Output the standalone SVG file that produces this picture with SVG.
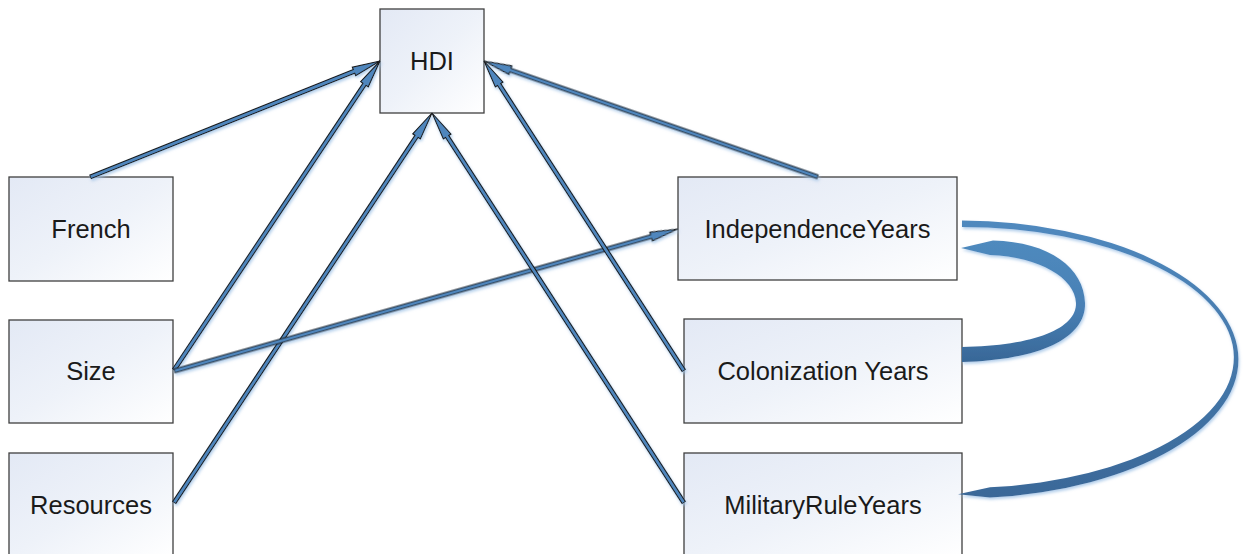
<svg xmlns="http://www.w3.org/2000/svg" xmlns:xlink="http://www.w3.org/1999/xlink" width="1243" height="554" viewBox="0 0 1243 554">
  <style>
    .box { fill: url(#boxFill); stroke: #3f3f3f; stroke-width: 1.3; }
    .label { font-family: "Liberation Sans", Arial, sans-serif; font-size: 25.5px; fill: #1a1a1a; text-anchor: middle; }
    .shaft-out { stroke: #1b1b1b; stroke-width: 5; fill: none; }
    .shaft-in { stroke: #4f86bd; stroke-width: 2.8; fill: none; }
    .head { fill: #4f86bd; stroke: #1b1b1b; stroke-width: 1.1; stroke-linejoin: miter; }
  </style>
  <defs>
    <linearGradient id="boxFill" x1="0" y1="0" x2="1" y2="1">
      <stop offset="0" stop-color="#e3e9f5"/>
      <stop offset="0.5" stop-color="#eef2f9"/>
      <stop offset="1" stop-color="#ffffff"/>
    </linearGradient>
    <linearGradient id="outerArc" gradientUnits="userSpaceOnUse" x1="0" y1="221" x2="0" y2="498">
      <stop offset="0" stop-color="#5089be"/>
      <stop offset="1" stop-color="#3a6898"/>
    </linearGradient>
    <linearGradient id="innerArc" gradientUnits="userSpaceOnUse" x1="0" y1="240" x2="0" y2="362">
      <stop offset="0" stop-color="#4f8abe"/>
      <stop offset="0.55" stop-color="#4880b5"/>
      <stop offset="1" stop-color="#386797"/>
    </linearGradient>
    <!-- soft light-blue halo under the connectors -->
    <filter id="halo" x="-10%" y="-10%" width="120%" height="120%">
      <feGaussianBlur in="SourceAlpha" stdDeviation="1.6" result="b"/>
      <feOffset in="b" dx="1" dy="1.5" result="o"/>
      <feFlood flood-color="#9fc2e6" flood-opacity="0.8"/>
      <feComposite in2="o" operator="in" result="s"/>
      <feMerge>
        <feMergeNode in="s"/>
        <feMergeNode in="SourceGraphic"/>
      </feMerge>
    </filter>
    <polygon id="head" class="head" points="0,0 -28,-4.6 -28,4.6"/>
  </defs>

  <rect width="1243" height="554" fill="#ffffff"/>

  <!-- nodes -->
  <g id="node-hdi">
    <rect class="box" x="380" y="9" width="104" height="104"/>
    <text class="label" x="432" y="70">HDI</text>
  </g>
  <g id="node-french">
    <rect class="box" x="9" y="177" width="164" height="104"/>
    <text class="label" x="91" y="238">French</text>
  </g>
  <g id="node-size">
    <rect class="box" x="9" y="320" width="164" height="103"/>
    <text class="label" x="91" y="380">Size</text>
  </g>
  <g id="node-resources">
    <rect class="box" x="9" y="453" width="164" height="104"/>
    <text class="label" x="91" y="514">Resources</text>
  </g>
  <g id="node-independence">
    <rect class="box" x="678" y="177" width="279" height="103"/>
    <text class="label" x="817.5" y="238">IndependenceYears</text>
  </g>
  <g id="node-colonization">
    <rect class="box" x="684" y="319" width="278" height="104"/>
    <text class="label" x="823" y="380">Colonization Years</text>
  </g>
  <g id="node-military">
    <rect class="box" x="684" y="453" width="278" height="104"/>
    <text class="label" x="823" y="514">MilitaryRuleYears</text>
  </g>

  <!-- connectors: each drawn along +x with the tip at the origin -->
  <g id="connectors" filter="url(#halo)">
    <!-- French -> HDI -->
    <g transform="translate(380,61) rotate(-21.8)">
      <line class="shaft-out" x1="-312.3" y1="0" x2="-26" y2="0"/>
      <use xlink:href="#head"/>
      <line class="shaft-in" x1="-311.5" y1="0" x2="-24" y2="0"/>
    </g>
    <!-- Size -> HDI -->
    <g transform="translate(380,61) rotate(-56.31)">
      <line class="shaft-out" x1="-371.4" y1="0" x2="-26" y2="0"/>
      <use xlink:href="#head"/>
      <line class="shaft-in" x1="-370.6" y1="0" x2="-24" y2="0"/>
    </g>
    <!-- Resources -> HDI -->
    <g transform="translate(432,113) rotate(-56.51)">
      <line class="shaft-out" x1="-467.6" y1="0" x2="-26" y2="0"/>
      <use xlink:href="#head"/>
      <line class="shaft-in" x1="-466.8" y1="0" x2="-24" y2="0"/>
    </g>
    <!-- Size -> IndependenceYears -->
    <g transform="translate(678,229) rotate(-15.74)">
      <line class="shaft-out" x1="-523.6" y1="0" x2="-26" y2="0"/>
      <use xlink:href="#head"/>
      <line class="shaft-in" x1="-522.8" y1="0" x2="-24" y2="0"/>
    </g>
    <!-- MilitaryRuleYears -> HDI -->
    <g transform="translate(432,113) rotate(-122.87)">
      <line class="shaft-out" x1="-464.3" y1="0" x2="-26" y2="0"/>
      <use xlink:href="#head"/>
      <line class="shaft-in" x1="-463.5" y1="0" x2="-24" y2="0"/>
    </g>
    <!-- Colonization Years -> HDI -->
    <g transform="translate(484,61) rotate(-122.83)">
      <line class="shaft-out" x1="-368.9" y1="0" x2="-26" y2="0"/>
      <use xlink:href="#head"/>
      <line class="shaft-in" x1="-368.1" y1="0" x2="-24" y2="0"/>
    </g>
    <!-- IndependenceYears -> HDI -->
    <g transform="translate(484,61) rotate(-160.85)">
      <line class="shaft-out" x1="-353.6" y1="0" x2="-26" y2="0"/>
      <use xlink:href="#head"/>
      <line class="shaft-in" x1="-352.8" y1="0" x2="-24" y2="0"/>
    </g>

    <!-- IndependenceYears -> MilitaryRuleYears: wide tapered arc -->
    <path fill="url(#outerArc)"
          d="M962,220.5 A280,139 0 0 1 990,497.6 L958,494.3 L990,487.3 A272,130.5 0 0 0 962,227 Z"/>

    <!-- Colonization Years -> IndependenceYears: thick curved arrow -->
    <path fill="url(#innerArc)"
          d="M962,362 C1040,360 1086,338 1085,303 C1084,268 1050,242 993,240.5 L961,248 L990,255 C1040,257 1075,278 1076,303 C1077,328 1035,346 962,347 Z"/>
  </g>
</svg>
